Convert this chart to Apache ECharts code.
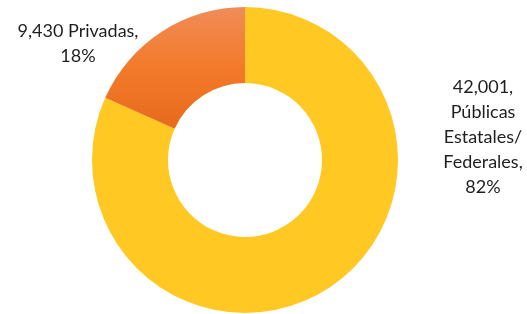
<!DOCTYPE html>
<html>
<head>
<meta charset="utf-8">
<script src="https://cdn.jsdelivr.net/npm/echarts@6/dist/echarts.min.js"></script>
<style>
  html, body { margin: 0; padding: 0; background: #fff; }
  #chart { width: 527px; height: 314px; }
</style>
</head>
<body>
<div id="chart"></div>
<script>
// datos
const categories = ['Públicas Estatales/ Federales', 'Privadas'];
const values = [42001, 9430];
const percents = ['82%', '18%'];
const labelTexts = [
  '42,001,\nPúblicas\nEstatales/\nFederales,\n82%',
  '9,430 Privadas,\n18%'
];

// posiciones de las etiquetas (centro del texto)
const labelPos = [
  { x: 483, y: 137 },
  { x: 78, y: 44 }
];

const chart = echarts.init(document.getElementById('chart'));

chart.setOption({
  animation: false,
  series: [
    {
      type: 'pie',
      center: [245, 160],
      radius: [77, 153],
      startAngle: 90,
      clockwise: true,
      silent: true,
      data: categories.map((name, i) => ({
        name: name,
        value: values[i],
        label: { formatter: labelTexts[i] },
        itemStyle: i === 0
          ? { color: '#FFC823' }
          : {
              color: new echarts.graphic.LinearGradient(0, 0, 0, 1, [
                { offset: 0, color: '#F08C58' },
                { offset: 0.5, color: '#F37A2A' },
                { offset: 1, color: '#E86A1C' }
              ])
            }
      })),
      label: {
        show: true,
        position: 'outside',
        fontFamily: 'Lato',
        fontSize: 18,
        lineHeight: 25,
        color: '#1f1f1f',
        align: 'center',
        overflow: 'none',
        width: 200
      },
      labelLine: { show: false },
      labelLayout: function (params) {
        const p = labelPos[params.dataIndex];
        return {
          x: p.x,
          y: p.y,
          align: 'center',
          verticalAlign: 'middle'
        };
      }
    }
  ]
});
</script>
</body>
</html>
